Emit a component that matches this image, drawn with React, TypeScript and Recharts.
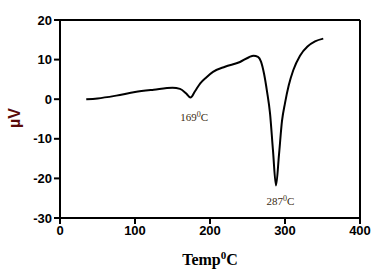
import React from "react";
import { LineChart, Line, XAxis, YAxis, ReferenceLine, ReferenceDot, Label } from "recharts";

const temps = [35, 50, 75, 100, 125, 150, 160, 168, 174, 180, 187, 195, 204, 220, 240, 252, 258, 264, 268, 272, 276, 280, 284, 288, 292, 296, 300, 305, 311, 320, 330, 340, 351];
const microvolts = [0, 0.2, 0.9, 1.8, 2.4, 2.9, 2.6, 1.5, 0.4, 2.0, 4.0, 5.5, 6.9, 8.2, 9.4, 10.6, 11.0, 10.7, 9.5, 6.5, 2, -3.5, -13, -21.8, -14, -5.5, -1, 3.5, 7.3, 11, 13.3, 14.6, 15.3];
const xTicks = [0, 100, 200, 300, 400];
const yTicks = [-30, -20, -10, 0, 10, 20];
const peakLabels = [
  { t: 179, v: -4.6, text: "169" },
  { t: 294, v: -25.8, text: "287" },
];

const data = temps.map((t, i) => ({ t, v: microvolts[i] }));

const PeakText = (props: any) => {
  const { viewBox, text } = props;
  const x = viewBox.x + (viewBox.width || 0) / 2;
  const y = viewBox.y + (viewBox.height || 0) / 2;
  return (
    <text x={x} y={y + 4} textAnchor="middle" fontFamily="Liberation Serif" fontSize={11} fill="#3a2a10">
      {text}
      <tspan dy={-4} fontSize={8}>0</tspan>
      <tspan dy={4}>C</tspan>
    </text>
  );
};

const tickStyle = { fontFamily: "Liberation Sans", fontWeight: "bold", fontSize: 13, fill: "#000" };

export default function App() {
  return (
    <div style={{ position: "absolute", left: 0, top: 0, background: "#fff" }}>
      <LineChart width={387} height={277} data={data} margin={{ top: 20, right: 27, left: 0, bottom: 0 }}>
        <XAxis
          dataKey="t"
          type="number"
          domain={[0, 400]}
          ticks={xTicks}
          height={59}
          stroke="#000"
          strokeWidth={2}
          tickSize={6}
          tick={tickStyle}
          tickLine={{ stroke: "#000", strokeWidth: 2 }}
        >
          <Label
            content={(p: any) => {
              const vb = p.viewBox;
              const cx = vb.x + vb.width / 2;
              return (
                <text x={cx} y={265} textAnchor="middle" fontFamily="Liberation Serif" fontWeight="bold" fontSize={16} fill="#000">
                  Temp<tspan dy={-6} fontSize={11}>0</tspan><tspan dy={6}>C</tspan>
                </text>
              );
            }}
          />
        </XAxis>
        <YAxis
          type="number"
          domain={[-30, 20]}
          ticks={yTicks}
          width={60}
          stroke="#000"
          strokeWidth={2}
          tickSize={6}
          tick={tickStyle}
          tickLine={{ stroke: "#000", strokeWidth: 2 }}
          interval={0}
        >
          <Label
            content={() => (
              <text x={20} y={118} transform="rotate(-90 20 118)" textAnchor="middle" fontFamily="Liberation Sans" fontWeight="bold" fontSize={16} fill="#5a0a0a">
                µV
              </text>
            )}
          />
        </YAxis>
        <ReferenceLine y={20} stroke="#000" strokeWidth={2} ifOverflow="visible" />
        <ReferenceLine x={400} stroke="#000" strokeWidth={2} ifOverflow="visible" />
        <Line type="monotone" dataKey="v" stroke="#000" strokeWidth={2} dot={false} isAnimationActive={false} />
        {peakLabels.map((p) => (
          <ReferenceDot key={p.text} x={p.t} y={p.v} r={0} stroke="none" fill="none" label={<PeakText text={p.text} />} />
        ))}
      </LineChart>
    </div>
  );
}
